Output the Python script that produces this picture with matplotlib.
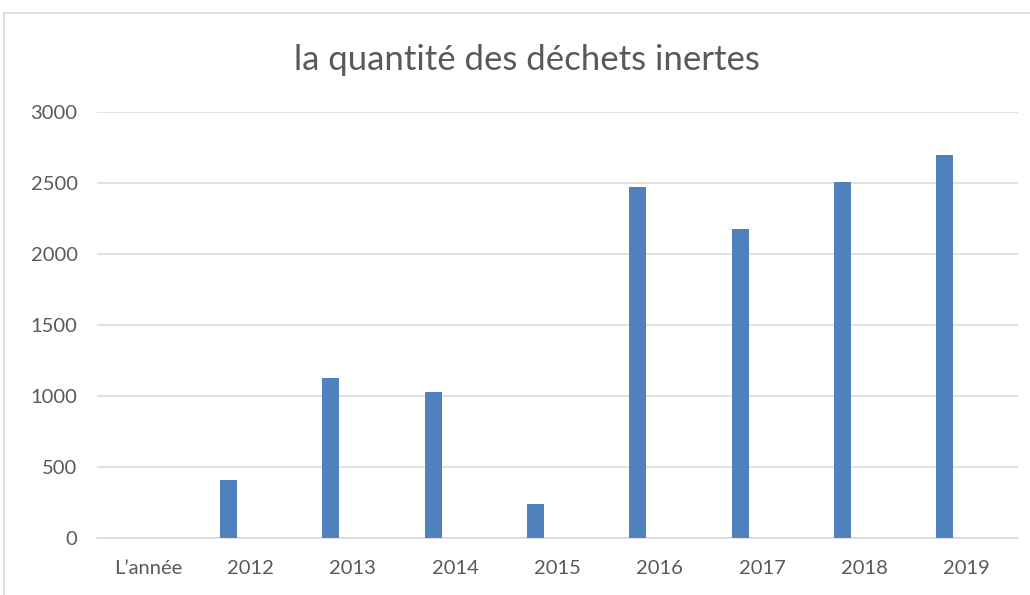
import matplotlib
matplotlib.use("Agg")
import matplotlib.pyplot as plt
import numpy as np

categories = ["L\u2019année", "2012", "2013", "2014", "2015", "2016", "2017", "2018", "2019"]
values = [0, 410, 1125, 1030, 237, 2470, 2178, 2505, 2695]
yticks = [0, 500, 1000, 1500, 2000, 2500, 3000]
title = "la quantité des déchets inertes"

plt.rcParams['font.family'] = ['Lato', 'DejaVu Sans']
txt = '#595959'
grid = '#d9d9d9'

fig = plt.figure(figsize=(10.30, 5.95), dpi=100)
# chart border (top and left)
fig.add_artist(plt.Line2D([0.004, 1.0], [1 - 13/595, 1 - 13/595], color='#d9d9d9', lw=1.2, transform=fig.transFigure))
fig.add_artist(plt.Line2D([0.004, 0.004], [0, 1 - 13/595], color='#d9d9d9', lw=1.2, transform=fig.transFigure))

ax = fig.add_axes([97/1030, 1 - 538/595, (1018 - 97)/1030, (538 - 112)/595])
x = np.arange(len(categories))
ax.bar(x - 0.215, values, width=0.166, color='#4F81BD', zorder=3)
ax.set_xlim(-0.5, len(categories) - 0.5)
ax.set_ylim(0, 3000)
ax.set_yticks(yticks)
ax.set_yticklabels([str(v) for v in yticks])
ax.set_xticks(x)
ax.set_xticklabels(categories)
ax.tick_params(axis='both', length=0, labelsize=14.5, colors=txt, labelcolor=txt)
ax.tick_params(axis='y', pad=14)
ax.tick_params(axis='x', pad=16)
ax.grid(axis='y', color=grid, lw=1.1, zorder=0)
for s in ['top', 'right', 'left']:
    ax.spines[s].set_visible(False)
ax.spines['bottom'].set_color(grid)
ax.spines['bottom'].set_linewidth(1.1)

fig.text(527/1030, 1 - 60/595, title, ha='center', va='center', fontsize=25, color=txt)

fig.savefig("out.png", dpi=100, facecolor='white')
